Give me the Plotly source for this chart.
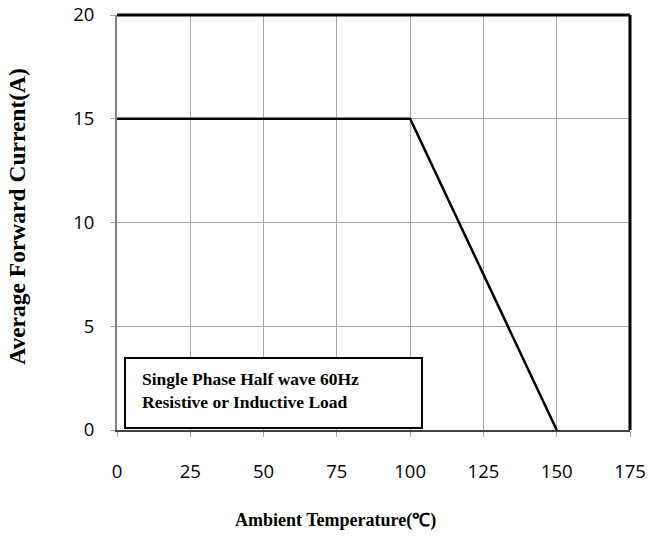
import plotly.graph_objects as go

temperature = [0, 100, 150]
current = [15, 15, 0]
x_ticks = [0, 25, 50, 75, 100, 125, 150, 175]
y_ticks = [0, 5, 10, 15, 20]
x_title = "Ambient Temperature(℃)"
y_title = "Average Forward Current(A)"
note_text = "Single Phase Half wave 60Hz<br>Resistive or Inductive Load"

fig = go.Figure()
fig.add_trace(go.Scatter(x=temperature, y=current, mode="lines",
                         line=dict(color="black", width=2.5), showlegend=False))

fig.update_layout(
    width=649, height=538,
    margin=dict(l=117, r=19, t=15, b=108, autoexpand=False),
    paper_bgcolor="white", plot_bgcolor="white",
    font=dict(family="Open Sans", size=18.5, color="black"),
)
fig.update_xaxes(range=[0, 175], tickvals=x_ticks, showgrid=True, gridcolor="#a6a6a6", gridwidth=1,
                 zeroline=False, showline=True, linecolor="#404040", linewidth=2,
                 ticks="outside", ticklen=5, tickcolor="#a6a6a6", ticklabelstandoff=19,
                 automargin=False)
fig.update_yaxes(range=[0, 20], tickvals=y_ticks, showgrid=True, gridcolor="#a6a6a6", gridwidth=1,
                 zeroline=False, showline=True, linecolor="#808080", linewidth=2,
                 ticks="outside", ticklen=5, tickcolor="#a6a6a6", ticklabelstandoff=12,
                 automargin=False)

# frame top and right
fig.add_shape(type="line", xref="paper", yref="paper", x0=0, x1=1, y0=1, y1=1,
              line=dict(color="black", width=3))
fig.add_shape(type="line", xref="paper", yref="paper", x0=1, x1=1, y0=0, y1=1,
              line=dict(color="black", width=3))

# axis titles
fig.add_annotation(x=0.425, y=-0.217, xref="paper", yref="paper", xanchor="center", yanchor="middle",
                   text=x_title, showarrow=False,
                   font=dict(family="Liberation Serif", size=18, color="black", weight="bold"))
fig.add_annotation(x=-0.195, y=0.516, xref="paper", yref="paper", xanchor="center", yanchor="middle",
                   text=y_title, showarrow=False, textangle=-90,
                   font=dict(family="Liberation Serif", size=23.5, color="black", weight="bold"))

# note box
fig.add_shape(type="rect", xref="paper", yref="paper", x0=0.0156, x1=0.5945, y0=0.0048, y1=0.1735,
              line=dict(color="black", width=2), fillcolor="white", layer="above")
fig.add_annotation(x=0.0448, y=0.094, xref="paper", yref="paper", xanchor="left", yanchor="middle",
                   text=note_text, showarrow=False, align="left",
                   font=dict(family="Liberation Serif", size=17.5, color="black", weight="bold"))

fig.write_html("out.html", config={"displayModeBar": False},
               post_script="document.body.style.margin='0';")
